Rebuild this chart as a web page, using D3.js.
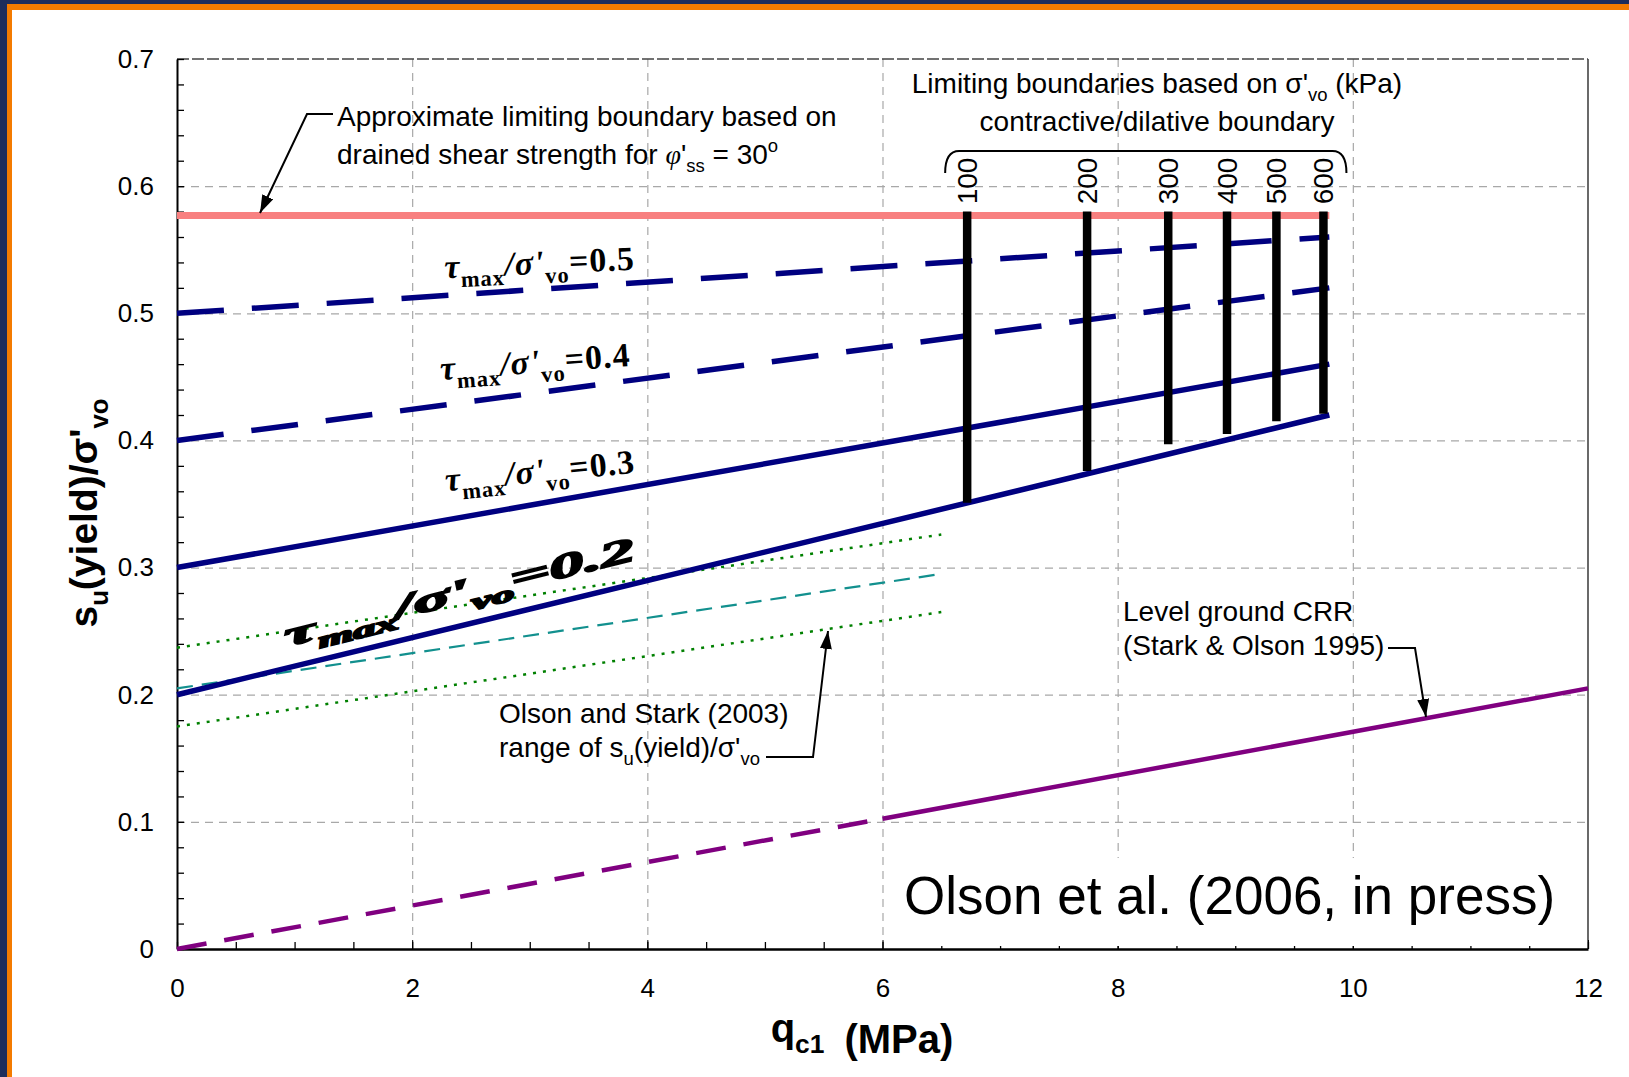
<!DOCTYPE html>
<html>
<head>
<meta charset="UTF-8">
<title>su(yield)/σ'vo vs qc1</title>
<script src="https://d3js.org/d3.v7.min.js"></script>
<style>
  body { margin: 0; background: #fff; }
  text { font-family: "Liberation Sans", Arial, sans-serif; fill: #000; }
  .grid line { stroke: #a8a8a8; stroke-width: 1.2; stroke-dasharray: 8,6; }
  .grid path { display: none; }
  .minor path { display: none; }
  .minor line { stroke: #000; stroke-width: 1.3; }
  .tau { font-family: "Liberation Serif", "Times New Roman", serif; font-weight: bold; font-style: italic; }
</style>
</head>
<body>
<svg id="chart" width="1629" height="1077"></svg>
<script>
// ---- data ----
const xTicks = [0, 2, 4, 6, 8, 10, 12];
const yTicks = [0, 0.1, 0.2, 0.3, 0.4, 0.5, 0.6, 0.7];
const drainedLimit = [[0, 0.577], [9.8, 0.577]];
const tauRatios = ['0.5', '0.4', '0.3'];
const tauStart = [0.50, 0.40, 0.30];
const tauEnd = [0.56, 0.52, 0.46];
const tauDashed = [true, true, false];
const contractiveLine = [[0, 0.20], [9.8, 0.42]];
const stressLabels = ['100', '200', '300', '400', '500', '600'];
const stressQc = [6.72, 7.74, 8.43, 8.93, 9.35, 9.75];
const stressBottom = [0.351, 0.376, 0.397, 0.405, 0.415, 0.421];
const stressTop = 0.580;
const olsonUpper = [[0, 0.237], [6.5, 0.326]];
const olsonMedian = [[0, 0.205], [6.5, 0.295]];
const olsonLower = [[0, 0.175], [6.5, 0.265]];
const crrDashed = [[0, 0], [6, 0.1025]];
const crrSolid = [[6, 0.1025], [12, 0.205]];

const svg = d3.select('#chart');
const width = 1629, height = 1077;
const margin = {top: 59, right: 41, bottom: 128, left: 177};

const x = d3.scaleLinear().domain([0, 12]).range([margin.left, width - margin.right]);
const y = d3.scaleLinear().domain([0, 0.7]).range([height - margin.bottom, margin.top]);
const line = d3.line().x(d => x(d[0])).y(d => y(d[1]));

// frame
svg.append('rect').attr('x', 0).attr('y', 0).attr('width', width).attr('height', 4).attr('fill', '#1e2d5c');
svg.append('rect').attr('x', 0).attr('y', 0).attr('width', 7).attr('height', height).attr('fill', '#1e2d5c');
svg.append('rect').attr('x', 7).attr('y', 4).attr('width', width - 7).attr('height', 6).attr('fill', '#f47b00');
svg.append('rect').attr('x', 7).attr('y', 4).attr('width', 5).attr('height', height - 4).attr('fill', '#f47b00');

// arrow marker
svg.append('defs').append('marker')
  .attr('id', 'arrow').attr('markerUnits', 'userSpaceOnUse')
  .attr('markerWidth', 18).attr('markerHeight', 12)
  .attr('refX', 18).attr('refY', 6).attr('orient', 'auto')
  .append('path').attr('d', 'M0,0 L18,6 L0,12 z').attr('fill', '#000');

// grid
svg.append('g').attr('class', 'grid')
  .attr('transform', `translate(0,${y(0)})`)
  .call(d3.axisBottom(x).tickValues([2, 4, 6, 8, 10]).tickSize(-(y(0) - y(0.7))).tickFormat(''));
svg.append('g').attr('class', 'grid')
  .attr('transform', `translate(${x(0)},0)`)
  .call(d3.axisLeft(y).tickValues([0.1, 0.2, 0.3, 0.4, 0.5, 0.6]).tickSize(-(x(12) - x(0))).tickFormat(''));

// top + right border
svg.append('line').attr('x1', x(0)).attr('x2', x(12)).attr('y1', y(0.7)).attr('y2', y(0.7))
  .attr('stroke', '#444').attr('stroke-width', 1.6).attr('stroke-dasharray', '12,3');
svg.append('line').attr('x1', x(12)).attr('x2', x(12)).attr('y1', y(0.7)).attr('y2', y(0))
  .attr('stroke', '#444').attr('stroke-width', 1.6);

// minor ticks
svg.append('g').attr('class', 'minor')
  .attr('transform', `translate(0,${y(0)})`)
  .call(d3.axisBottom(x).tickValues(d3.range(0, 12.01, 0.5)).tickSize(-7).tickFormat(''));
svg.append('g').attr('class', 'minor')
  .attr('transform', `translate(${x(0)},0)`)
  .call(d3.axisLeft(y).tickValues(d3.range(0, 0.701, 0.02)).tickSize(-7).tickFormat(''));

// axes
const xAxis = svg.append('g')
  .attr('transform', `translate(0,${y(0)})`)
  .call(d3.axisBottom(x).tickValues(xTicks).tickSize(-9).tickSizeOuter(0).tickPadding(30).tickFormat(d3.format('d')));
xAxis.select('.domain').attr('stroke-width', 2.6);
xAxis.selectAll('text').attr('font-size', 26).attr('font-family', '"Liberation Sans", Arial, sans-serif');

const yAxis = svg.append('g')
  .attr('transform', `translate(${x(0)},0)`)
  .call(d3.axisLeft(y).tickValues(yTicks).tickSize(-7).tickSizeOuter(0).tickPadding(23)
    .tickFormat(d => d === 0 ? '0' : d3.format('.1f')(d)));
yAxis.select('.domain').attr('stroke-width', 2);
yAxis.selectAll('text').attr('font-size', 26).attr('font-family', '"Liberation Sans", Arial, sans-serif');

// text helper: parts = [string, 'sub'|'sup'|null, italic]
function rich(t, parts, size) {
  let shift = 0;
  parts.forEach(([str, kind, it]) => {
    const target = kind === 'sub' ? size * 0.28 : kind === 'sup' ? -size * 0.42 : 0;
    const ts = t.append('tspan').attr('dy', target - shift).text(str);
    if (kind) ts.attr('font-size', size * 0.66);
    if (it === true) ts.attr('font-style', 'italic').attr('font-family', '"Liberation Serif", serif');
    if (it === 'up') ts.attr('font-style', 'normal');
    shift = target;
  });
  return t;
}

// Olson & Stark range
svg.append('path').attr('d', line(olsonUpper)).attr('fill', 'none')
  .attr('stroke', '#008000').attr('stroke-width', 2.5).attr('stroke-dasharray', '3,7');
svg.append('path').attr('d', line(olsonLower)).attr('fill', 'none')
  .attr('stroke', '#008000').attr('stroke-width', 2.5).attr('stroke-dasharray', '3,7');
svg.append('path').attr('d', line(olsonMedian)).attr('fill', 'none')
  .attr('stroke', '#12908e').attr('stroke-width', 2.2).attr('stroke-dasharray', '16,9');

// level ground CRR
svg.append('path').attr('d', line(crrDashed)).attr('fill', 'none')
  .attr('stroke', '#800080').attr('stroke-width', 4.5).attr('stroke-dasharray', '30,18');
svg.append('path').attr('d', line(crrSolid)).attr('fill', 'none')
  .attr('stroke', '#800080').attr('stroke-width', 4.5);

// tau lines
tauRatios.forEach((r, i) => {
  svg.append('path').attr('d', line([[0, tauStart[i]], [9.8, tauEnd[i]]])).attr('fill', 'none')
    .attr('stroke', '#000080').attr('stroke-width', 5.5)
    .attr('stroke-dasharray', tauDashed[i] ? '47,28' : null);
});
svg.append('path').attr('d', line(contractiveLine)).attr('fill', 'none')
  .attr('stroke', '#000080').attr('stroke-width', 5.5);

// drained limit
svg.append('path').attr('d', line(drainedLimit)).attr('fill', 'none')
  .attr('stroke', '#f88080').attr('stroke-width', 7);

// limiting boundaries (vertical bars)
svg.selectAll('.bar').data(stressQc).enter().append('line')
  .attr('x1', d => x(d)).attr('x2', d => x(d))
  .attr('y1', y(stressTop)).attr('y2', (d, i) => y(stressBottom[i]))
  .attr('stroke', '#000').attr('stroke-width', 8.5);
svg.selectAll('.stress').data(stressQc).enter().append('text')
  .attr('transform', d => `translate(${x(d) + 10},181) rotate(-90)`)
  .attr('text-anchor', 'middle').attr('font-size', 28)
  .text((d, i) => stressLabels[i]);

// brace
const bx0 = x(stressQc[0]) - 22, bx1 = x(stressQc[5]) + 23;
svg.append('path')
  .attr('d', `M${bx0},173 Q${bx0},151 ${bx0 + 14},151 L${bx1 - 14},151 Q${bx1},151 ${bx1},173`)
  .attr('fill', 'none').attr('stroke', '#000').attr('stroke-width', 2);

// tau labels
const tauLabelPos = [[540, 274, -2.5], [536, 373, -4.2], [541, 482, -5.6]];
tauRatios.forEach((r, i) => {
  const p = tauLabelPos[i];
  const t = svg.append('text').attr('class', 'tau').attr('font-size', 34)
    .attr('text-anchor', 'middle').attr('letter-spacing', 1)
    .attr('transform', `translate(${p[0]},${p[1]}) rotate(${p[2]})`);
  rich(t, [['τ'], ['max', 'sub', 'up'], ['/σ\''], ['vo', 'sub', 'up'], ['=' + r, null, 'up']], 34);
});
// garbled label above the lower line
const g2 = svg.append('text').attr('class', 'tau').attr('font-size', 34)
  .attr('text-anchor', 'middle').attr('stroke', '#000').attr('stroke-width', 1.8)
  .attr('transform', `translate(462,603) rotate(-14)`)
  .attr('textLength', 360).attr('lengthAdjust', 'spacingAndGlyphs');
rich(g2, [['τ'], ['max', 'sub'], ['/σ\''], ['vo', 'sub'], ['=0.2']], 34);

// annotations
const fs = 28;
rich(svg.append('text').attr('x', 337).attr('y', 126).attr('font-size', fs),
  [['Approximate limiting boundary based on']], fs);
rich(svg.append('text').attr('x', 337).attr('y', 164).attr('font-size', fs),
  [['drained shear strength for '], ['φ', null, true], ['\''], ['ss', 'sub'], [' = 30'], ['o', 'sup']], fs);
svg.append('path').attr('d', 'M333,114 H307 L260,213').attr('fill', 'none')
  .attr('stroke', '#000').attr('stroke-width', 2).attr('marker-end', 'url(#arrow)');

rich(svg.append('text').attr('x', 1157).attr('y', 93).attr('font-size', fs).attr('text-anchor', 'middle'),
  [['Limiting boundaries based on σ\''], ['vo', 'sub'], [' (kPa)']], fs);
rich(svg.append('text').attr('x', 1157).attr('y', 131).attr('font-size', fs).attr('text-anchor', 'middle'),
  [['contractive/dilative boundary']], fs);

rich(svg.append('text').attr('x', 499).attr('y', 723).attr('font-size', fs),
  [['Olson and Stark (2003)']], fs);
rich(svg.append('text').attr('x', 499).attr('y', 757).attr('font-size', fs),
  [['range of s'], ['u', 'sub'], ['(yield)/σ\''], ['vo', 'sub']], fs);
svg.append('path').attr('d', 'M766,757 H813 L828,631').attr('fill', 'none')
  .attr('stroke', '#000').attr('stroke-width', 2).attr('marker-end', 'url(#arrow)');

rich(svg.append('text').attr('x', 1123).attr('y', 621).attr('font-size', fs),
  [['Level ground CRR']], fs);
rich(svg.append('text').attr('x', 1123).attr('y', 655).attr('font-size', fs),
  [['(Stark & Olson 1995)']], fs);
svg.append('path').attr('d', 'M1388,648 H1415 L1426,717').attr('fill', 'none')
  .attr('stroke', '#000').attr('stroke-width', 2).attr('marker-end', 'url(#arrow)');

// citation box
svg.append('rect').attr('x', 893).attr('y', 858).attr('width', 692).attr('height', 88).attr('fill', '#fff');
svg.append('text').attr('x', 904).attr('y', 914).attr('font-size', 53).text('Olson et al. (2006, in press)');

// axis titles
rich(svg.append('text').attr('x', 862).attr('y', 1042).attr('font-size', 40)
  .attr('font-weight', 'bold').attr('text-anchor', 'middle'),
  [['q'], ['c1', 'sub'], ['']], 40).append('tspan').attr('dx', 20).text('(MPa)');
rich(svg.append('text').attr('transform', 'translate(97,513) rotate(-90)').attr('font-size', 39)
  .attr('font-weight', 'bold').attr('text-anchor', 'middle'),
  [['s'], ['u', 'sub'], ['(yield)/σ\''], ['vo', 'sub']], 39);
</script>
</body>
</html>
